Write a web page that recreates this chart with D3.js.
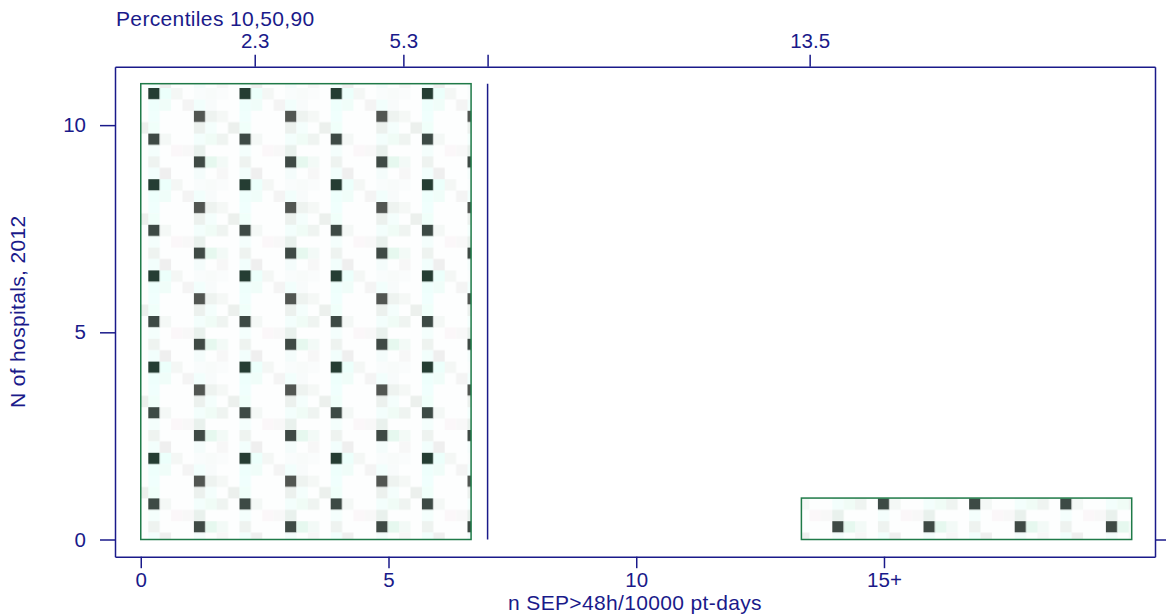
<!DOCTYPE html>
<html><head><meta charset="utf-8">
<script src="https://cdn.jsdelivr.net/npm/d3@7"></script>
<style>
body{margin:0;background:#fff}
svg{display:block}
text{font-family:"Liberation Sans",Arial,sans-serif}
</style>
</head><body><svg id="c" width="1166" height="616"></svg>
<script>
// ---- data ----
const binStarts = [0, 20/3, 40/3];
const binEnds = [20/3, 40/3, 20];
const counts = [11, 0, 1];
const xTicks = [0, 5, 10, 15];
const xTickLabels = ["0", "5", "10", "15+"];
const yTicks = [0, 5, 10];
const pctTicks = [2.3, 5.3, 7, 13.5];
const pctLabels = ["2.3", "5.3", "", "13.5"];
const refLineX = 7;
const titleTop = "Percentiles 10,50,90";
const titleX = "n SEP>48h/10000 pt-days";
const titleY = "N of hospitals, 2012";

// ---- layout ----
const navy = "#1a1a8a";
const green = "#1f7a48";
const L = 115, R = 1155, T = 66.7, B = 556.7;
const svg = d3.select("#c");

const x = d3.scaleLinear().domain([-0.52, 20.47]).range([L, R]);
const y = d3.scaleLinear().domain([-0.415, 11.41]).range([B, T]);

// ---- pattern ----
const blk = 11.4;
const defs = svg.append("defs");
const pat = defs.append("pattern").attr("id", "pat")
  .attr("patternUnits", "userSpaceOnUse")
  .attr("x", 148.3).attr("y", 88)
  .attr("width", blk * 8).attr("height", blk * 8);
pat.append("rect").attr("width", blk * 8).attr("height", blk * 8).attr("fill", "#fdfefe");
const cells = [
  [0,0,"#253d33"],[0,1,"#ecfffb"],[0,2,"#f4f7f5"],[0,4,"#f9fcfc"],[0,5,"#f8fbfa"],[0,6,"#fafcfc"],
  [1,0,"#eefffc"],[1,1,"#f0fdf9"],[1,3,"#f4f4f4"],[1,5,"#f8fbfb"],[1,4,"#f2fefc"],
  [2,0,"#f0fffd"],[2,4,"#525652"],[2,5,"#eef3f0"],[2,6,"#f5f8f6"],
  [3,0,"#f0fffa"],[3,4,"#ecf1ee"],[3,7,"#ecf0ed"],[3,5,"#f4fefc"],
  [4,0,"#3d4a45"],[4,1,"#f4f8f6"],[4,4,"#f3fefc"],[4,5,"#f0fcf6"],[4,6,"#eff4f1"],
  [5,0,"#f4fefc"],[5,2,"#fbf7f9"],[5,3,"#f8f8f8"],[5,4,"#e9f1ed"],
  [6,0,"#eef3f0"],[6,4,"#3f4a45"],[6,5,"#e6f8ef"],[6,6,"#f3faf7"],
  [7,0,"#f2fefc"],[7,1,"#efefef"],[7,4,"#f4fcfb"],[7,6,"#f7f7f7"]
];
pat.selectAll("rect.c").data(cells).join("rect").attr("class", "c")
  .attr("x", d => d[1] * blk).attr("y", d => d[0] * blk)
  .attr("width", blk).attr("height", blk).attr("fill", d => d[2]);

// ---- bars ----
const bars = binStarts.map((s, i) => ({s, e: binEnds[i], c: counts[i]})).filter(d => d.c > 0);
svg.append("g").selectAll("rect").data(bars).join("rect")
  .attr("x", d => x(d.s)).attr("y", d => y(d.c))
  .attr("width", d => x(d.e) - x(d.s)).attr("height", d => y(0) - y(d.c))
  .attr("fill", "url(#pat)").attr("stroke", green).attr("stroke-width", 1.5);

// ---- reference line ----
svg.append("line")
  .attr("x1", x(refLineX)).attr("x2", x(refLineX))
  .attr("y1", y(0)).attr("y2", y(d3.max(counts)))
  .attr("stroke", navy).attr("stroke-width", 1.5);

// ---- axes ----
function style(g) {
  g.selectAll("path,line").attr("stroke", navy).attr("stroke-width", 1.5);
  g.selectAll("text").attr("fill", navy).style("font-size", "20.5px")
    .style("font-family", '"Liberation Sans", Arial, sans-serif');
}
svg.append("g").attr("transform", `translate(${L},0)`)
  .call(d3.axisLeft(y).tickValues(yTicks).tickSize(15).tickSizeOuter(0).tickPadding(14))
  .call(style);
svg.append("g").attr("transform", `translate(0,${B})`)
  .call(d3.axisBottom(x).tickValues(xTicks).tickFormat((d, i) => xTickLabels[i])
    .tickSize(11.5).tickSizeOuter(0).tickPadding(4.5))
  .call(style);
svg.append("g").attr("transform", `translate(0,${T})`)
  .call(d3.axisTop(x).tickValues(pctTicks).tickFormat((d, i) => pctLabels[i])
    .tickSize(12).tickSizeOuter(0).tickPadding(6.7))
  .call(style);
svg.append("g").attr("transform", `translate(${R},0)`)
  .call(d3.axisRight(y).tickValues([0]).tickFormat(() => "").tickSize(11).tickSizeOuter(0))
  .call(style);
svg.selectAll(".domain").attr("fill", "none");

// ---- titles ----
const tStyle = s => s.attr("fill", navy).style("font-size", "21px").style("letter-spacing", "0.35px");
svg.append("text").attr("x", 116).attr("y", 26).call(tStyle).text(titleTop);
svg.append("text").attr("x", (L + R) / 2).attr("y", 610).attr("text-anchor", "middle")
  .call(tStyle).text(titleX);
svg.append("text").attr("transform", `translate(25,${(T + B) / 2}) rotate(-90)`)
  .attr("text-anchor", "middle").call(tStyle).text(titleY);
</script>
</body></html>
